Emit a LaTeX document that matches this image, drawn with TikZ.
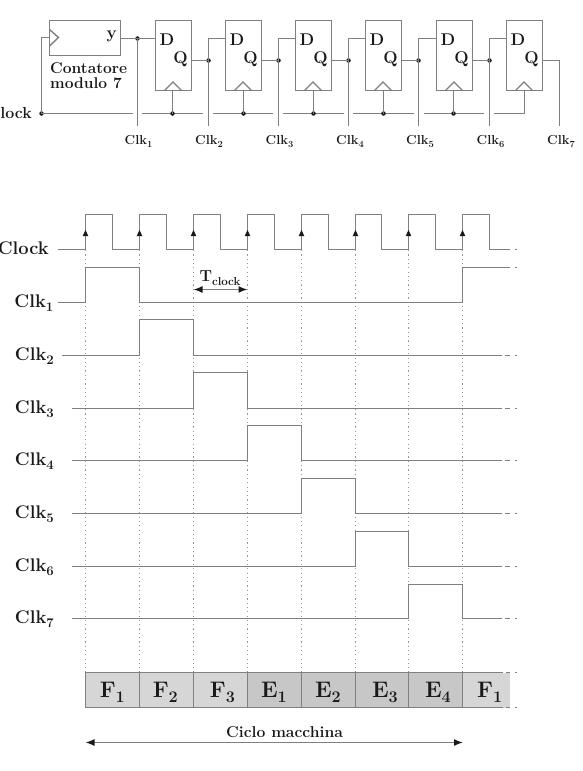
\documentclass[tikz,border=0pt]{standalone}
\usetikzlibrary{arrows.meta}
\definecolor{wire}{gray}{0.5}
\definecolor{dotcol}{gray}{0.6}
\definecolor{ink}{gray}{0.1}
\definecolor{fetchfill}{gray}{0.84}
\definecolor{execfill}{gray}{0.78}
\newcommand\lowidx[1]{\raisebox{-.25em}{\scalebox{.72}{#1}}}
\newcommand\fs[1]{\fontsize{#1}{#1}\selectfont\bfseries}
\tikzset{
  wireline/.style={draw=wire,line width=1.4pt},
  block/.style={draw=wire,line width=1.4pt,fill=white,rectangle,inner sep=0pt,outer sep=0pt},
  junction/.style={circle,fill=ink,inner sep=0pt,minimum size=4.5pt},
  pin/.style={text=ink,inner sep=0pt,font=\fs{17}},
  caption/.style={text=ink,inner sep=0pt,align=left,font=\fs{15.6}},
  clklabel/.style={text=ink,inner sep=0pt,font=\fs{13},anchor=base},
  siglabel/.style={text=ink,inner sep=0pt,font=\fs{18.3},anchor=base east},
  grid/.style={draw=dotcol,line width=1pt,dash pattern=on 1.2pt off 3.1pt},
  stage/.style={draw=wire,line width=1.4pt,rectangle,inner sep=0pt,outer sep=0pt,minimum height=35pt},
  stagetext/.style={text=ink,inner sep=0pt,anchor=base,font=\fs{22.5}},
  bothtip/.style={{Latex[length=9pt,width=7pt,color=ink]}-{Latex[length=9pt,width=7pt,color=ink]}},
}
\begin{document}
\begin{tikzpicture}[x=1pt,y=-1pt]
\useasboundingbox (0,0) rectangle (583,771);
% ---------- circuit ----------
\node[block,minimum width=71pt,minimum height=35pt,anchor=north west] (cnt) at (49.5,20.5) {};
\node[pin,anchor=east] (cnty) at (117,36) {y};
\node[caption,anchor=north west] (cntcap) at (50,62) {\baselineskip=13.3pt Contatore\\modulo 7};
\draw[wireline] (49.5,29.5) coordinate (ca) -- (58.5,37.5) coordinate (cc) -- (49.5,46) coordinate (cb);
\node[junction] (clkdot) at (41.5,113.5) {};
\node[text=ink,inner sep=0pt,anchor=base east,font=\fs{16}] (clkin) at (32,118) {Clock};
\draw[wireline] (clkdot.center) -- (41.5,37.5) -- (cnt.west |- cc);
\foreach \i/\l in {1/155.5,2/225.5,3/295.5,4/365.5,5/436.5,6/506.5}{
  \node[block,minimum width=36pt,minimum height=70pt,anchor=north west] (ff\i) at (\l,20.5) {};
  \node[pin] (d\i) at (\l+11.5,39.5) {D};
  \node[pin] (q\i) at (\l+25,59) {Q};
  \draw[wireline] (\l+9,90.5) coordinate (tl\i) -- (\l+17.5,82) coordinate (ta\i) -- (\l+26,90.5) coordinate (tr\i);
  \coordinate (din\i) at (\l,38.5);
  \coordinate (qout\i) at (\l+36,60.5);
}
% input and output wires of the flip-flops
\node[junction] (yn0) at (137.5,38.5) {};
\draw[wireline] (cnt.east |- yn0) -- (din1);
\draw[wireline] (yn0.center) -- (137.5,126) coordinate (ck1);
\foreach \i/\j/\x in {1/2/208.5,2/3/278.5,3/4/348.5,4/5/418.5,5/6/489.5}{
  \node[junction] (yn\i) at (\x,60.5) {};
  \draw[wireline] (qout\i) -- (yn\i.center);
  \draw[wireline] (din\j) -| (\x,126) coordinate (ck\j);
}
\draw[wireline] (qout6) -| (559.5,126) coordinate (ck7);
% clock bus
\draw[wireline] (clkdot.center) -- (133,113.5);
\foreach \a/\b in {142/203,213/273,283/343.7,353/414,424/484,494/524.5}{
  \draw[wireline] (\a,113.5) -- (\b,113.5);
}
\foreach \i/\x in {1/172.5,2/243.5,3/313.5,4/383.5,5/453.5}{
  \node[junction] (ckd\i) at (\x,113.5) {};
  \draw[wireline] (ckd\i.center) -- (\x,90.5);
}
\draw[wireline] (524.5,113.5) -- (524.5,90.5);
\foreach \i/\x in {1/138.5,2/209,3/279.5,4/350,5/420,6/490.5,7/561}{
  \node[clklabel] (cl\i) at (\x,144) {Clk\lowidx{\i}};
}
% ---------- dotted time lines ----------
\foreach \x in {85.5,139.5,193.5,247.5,301.5,355.5,408.5,462.5}{
  \draw[grid] (\x,250) -- (\x,672);
}
% ---------- clock wave ----------
\node[siglabel] (sclock) at (49,254) {Clock};
\draw[wireline] (58,249.5) -- (85.5,249.5)
  -- (85.5,214.5) -- (112.5,214.5) -- (112.5,249.5) -- (139.5,249.5)
  -- (139.5,214.5) -- (166.5,214.5) -- (166.5,249.5) -- (193.5,249.5)
  -- (193.5,214.5) -- (220.5,214.5) -- (220.5,249.5) -- (247.5,249.5)
  -- (247.5,214.5) -- (274.5,214.5) -- (274.5,249.5) -- (301.5,249.5)
  -- (301.5,214.5) -- (328.5,214.5) -- (328.5,249.5) -- (355.5,249.5)
  -- (355.5,214.5) -- (381.5,214.5) -- (381.5,249.5) -- (408.5,249.5)
  -- (408.5,214.5) -- (435.5,214.5) -- (435.5,249.5) -- (462.5,249.5)
  -- (462.5,214.5) -- (489.5,214.5) -- (489.5,249.5) -- (510,249.5);
\foreach \x in {85.5,139.5,193.5,247.5,301.5,355.5,408.5,462.5}{
  \fill[ink] (\x-2.8,236) -- (\x,230) -- (\x+2.8,236) -- cycle;
}
\draw[wireline] (515,249.5) -- (516.5,249.5);
% ---------- Clk1..Clk7 waves ----------
\node[siglabel] (s1) at (53.5,307) {Clk\lowidx{1}};
\draw[wireline] (58,302.5) -- (85.5,302.5) -- (85.5,267.5) -- (139.5,267.5) -- (139.5,302.5) -- (462.5,302.5) -- (462.5,267.5) -- (510,267.5);
\draw[wireline] (515,267.5) -- (516.5,267.5);
\foreach \i/\st/\lo/\hi/\a/\b in {2/62/355.5/319.5/139.5/193.5,3/71.5/408.5/372.5/193.5/247.5,4/71.5/460.5/425.5/247.5/301.5,5/71.5/513.5/478.5/301.5/355.5,6/71.5/566.5/531.5/355.5/408.5,7/71.5/618.5/584.5/408.5/462.5}{
  \node[siglabel] (s\i) at (54,\lo+4.5) {Clk\lowidx{\i}};
  \draw[wireline] (\st,\lo) -- (\a,\lo) -- (\a,\hi) -- (\b,\hi) -- (\b,\lo) -- (502,\lo);
  \draw[wireline] (505,\lo) -- (510,\lo) (514.5,\lo) -- (516.5,\lo);
}
% ---------- T clock ----------
\coordinate (ta) at (193.5,289.5);
\coordinate (tb) at (247.5,289.5);
\draw[wireline,bothtip] (ta) -- (tb);
\node[text=ink,inner sep=0pt,anchor=base,font=\fs{16}] (tclock) at (220,281) {T\raisebox{-.3em}{\scalebox{.72}{clock}}};
% ---------- stages ----------
\fill[fetchfill] (85.5,672.5) rectangle (510,707.5);
\fill[execfill] (247.5,672.5) rectangle (462.5,707.5);
\foreach \n/\a/\w in {a/85.5/54,b/139.5/54,c/193.5/54,d/247.5/54,e/301.5/54,f/355.5/53,g/408.5/54}{
  \node[stage,minimum width=\w pt,anchor=north west] (st\n) at (\a,672.5) {};
}
\foreach \n/\x/\t/\s in {a/112.3/F/1,b/165.3/F/2,c/222.5/F/3,d/274/E/1,e/328/E/2,f/385/E/3,g/438/E/4,h/489.7/F/1}{
  \node[stagetext] (lb\n) at (\x,697) {\t\lowidx{\s}};
}
\draw[wireline] (stg.north east) -- (503,672.5) (506,672.5) -- (510,672.5) (514.5,672.5) -- (516.5,672.5);
\draw[wireline] (stg.south east) -- (503,707.5) (506,707.5) -- (510,707.5) (514.5,707.5) -- (516.5,707.5);
% ---------- machine cycle ----------
\coordinate (ma) at (85.5,742.5);
\coordinate (mb) at (463,742.5);
\draw[wireline,bothtip] (ma) -- (mb);
\node[text=ink,inner sep=0pt,anchor=base,font=\fs{15.7}] (ciclo) at (284.5,737.5) {Ciclo macchina};
\end{tikzpicture}
\end{document}
